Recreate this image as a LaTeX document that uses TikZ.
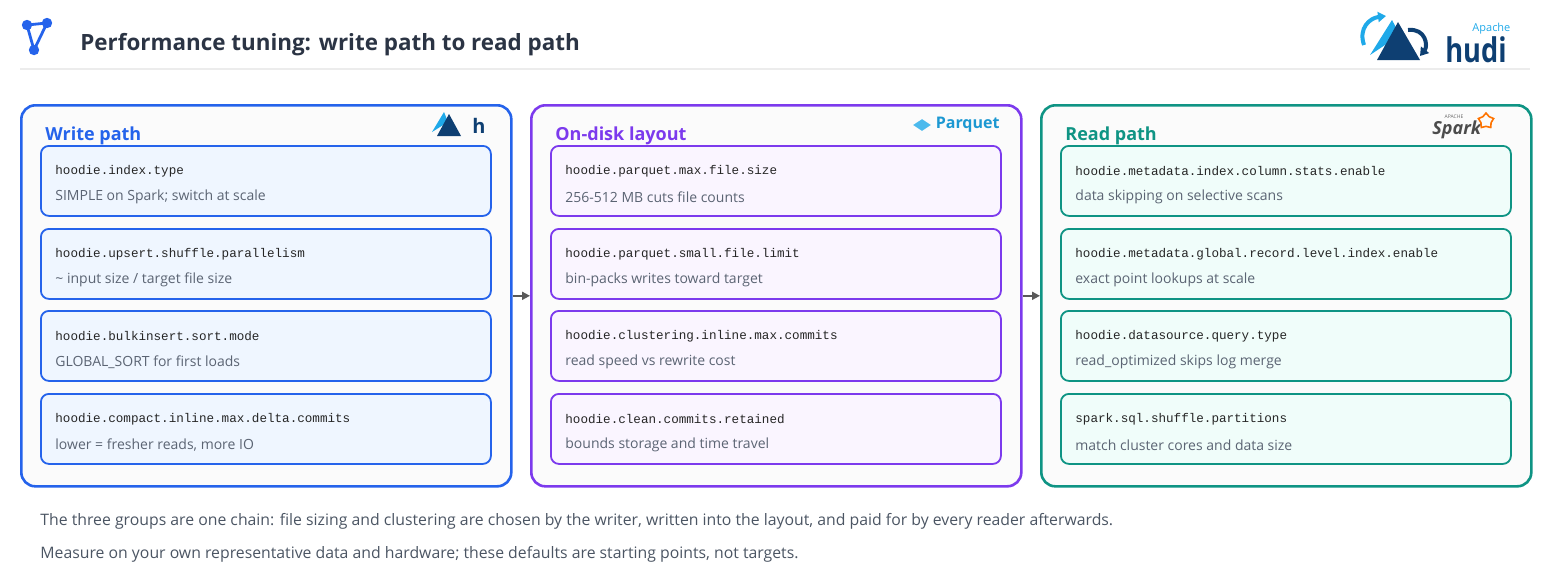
\documentclass[tikz,border=0pt]{standalone}
\usepackage{fontspec}
\setmainfont{Open Sans}
\setmonofont{Liberation Mono}
\usetikzlibrary{positioning,arrows.meta,shapes.geometric}
\definecolor{wblue}{HTML}{2563EB}
\definecolor{dpurple}{HTML}{7C3AED}
\definecolor{rteal}{HTML}{0F9484}
\definecolor{wtint}{HTML}{EFF6FF}
\definecolor{ltint}{HTML}{FAF5FF}
\definecolor{rtint}{HTML}{F0FDFA}
\definecolor{titlec}{HTML}{2B3444}
\definecolor{notec}{HTML}{4B5563}
\definecolor{subc}{HTML}{5B6473}
\definecolor{hudidark}{HTML}{0E3F72}
\definecolor{hudilight}{HTML}{1FA9E9}
\tikzset{
  panel/.style={draw=#1,line width=1.3pt,rounded corners=7pt,fill=gray!3,minimum width=245pt,minimum height=190.5pt,inner sep=0pt},
  card/.style={draw=#1,line width=0.9pt,rounded corners=4pt,minimum width=225pt,minimum height=35pt,inner sep=0pt},
  key/.style={font=\ttfamily\fontsize{6.3}{7}\selectfont,text=black!85,anchor=west,inner sep=0pt},
  note/.style={font=\fontsize{7}{8}\selectfont,text=subc,anchor=west,inner sep=0pt},
  ptitle/.style={font=\bfseries\fontsize{9}{10}\selectfont,text=#1,anchor=west,inner sep=0pt},
  link/.style={draw=gray!70!black,line width=0.9pt,-{Triangle[length=4pt,width=4pt]}}
}
\begin{document}
\begin{tikzpicture}[x=0.5pt,y=-0.5pt]
\useasboundingbox (0,0) rectangle (1550,585);
% header
\coordinate (i1) at (27,25); \coordinate (i2) at (47,23); \coordinate (i3) at (34,50);
\draw[wblue,line width=1.4pt] (i1) -- (i2) -- (i3) -- cycle;
\foreach \c in {i1,i2,i3} \fill[wblue] (\c) circle (2.6pt);
\node[font=\bfseries\fontsize{11.2}{12}\selectfont,text=titlec,anchor=west,inner sep=0pt] (title) at (80,45) {Performance tuning: write path to read path};
\draw[gray!15,line width=1pt] (20,69) -- (1530,69);
% hudi logo
\fill[hudilight] (1370,55) -- (1392,20) -- (1400,35) -- cycle;
\fill[hudidark] (1377,60) -- (1398,22) -- (1420,60) -- cycle;
\draw[hudilight,line width=2pt,-{Triangle[length=4pt,width=5pt]}] (1364,45) .. controls (1358,28) and (1370,18) .. (1386,16);
\draw[hudidark,line width=2pt,-{Triangle[length=4pt,width=5pt]}] (1408,30) .. controls (1426,28) and (1428,46) .. (1420,56);
\node[font=\fontsize{5.5}{6}\selectfont,text=hudilight,anchor=south west,inner sep=0pt] (apache) at (1472,35) {Apache};
\node[font=\bfseries\fontsize{17}{17}\selectfont,text=hudidark,anchor=south west,inner sep=0pt,xscale=0.8] (hudi) at (1445,63) {hudi};
% panels
\node[panel=wblue,anchor=north west] (write) at (20,104) {};
\node[panel=dpurple,anchor=north west] (layout) at (530,104) {};
\node[panel=rteal,anchor=north west] (read) at (1040,104) {};
\node[ptitle=wblue] (twrite) at (45,136) {Write path};
\node[ptitle=dpurple] (tlayout) at (555,136) {On-disk layout};
\node[ptitle=rteal] (tread) at (1065,136) {Read path};
% small logos
\fill[hudilight] (432,132) -- (444,112) -- (448,122) -- cycle;
\fill[hudidark] (437,136) -- (449,114) -- (461,136) -- cycle;
\node[font=\bfseries\fontsize{10}{10}\selectfont,text=hudidark,anchor=west,inner sep=0pt] (hsmall) at (472,126) {h};
\node[diamond,fill=hudilight!80,minimum width=9pt,minimum height=6pt,inner sep=0pt] (pq) at (922,125) {};
\node[font=\bfseries\fontsize{8}{8}\selectfont,text=hudilight!90!black,anchor=west,inner sep=0pt,right=2pt of pq] (parquet) {Parquet};
\node[font=\itshape\bfseries\fontsize{9}{9}\selectfont,text=black!70,anchor=west,inner sep=0pt] (spark) at (1432,130) {Spark};
\node[star,star points=5,draw=orange!90!red,line width=0.8pt,minimum size=8pt,inner sep=0pt] (sstar) at (1486,121) {};
\node[font=\fontsize{2.5}{3}\selectfont,text=black!60,anchor=south,inner sep=0pt] (sapache) at (1454,119) {APACHE};
% cards
\foreach \p/\c/\x/\tint in {w/wblue/40/wtint, l/dpurple/550/ltint, r/rteal/1060/rtint}{
  \foreach \i/\y in {1/145,2/228,3/310,4/393}{
    \node[card=\c,fill=\tint,anchor=north west] (\p\i) at (\x,\y) {};
  }
}
\foreach \p/\i/\k/\n in {
  w/1/hoodie.index.type/{SIMPLE on Spark; switch at scale},
  w/2/hoodie.upsert.shuffle.parallelism/{\textasciitilde\ input size / target file size},
  w/3/hoodie.bulkinsert.sort.mode/{GLOBAL\_SORT for first loads},
  w/4/hoodie.compact.inline.max.delta.commits/{lower = fresher reads, more IO},
  l/1/hoodie.parquet.max.file.size/{256-512 MB cuts file counts},
  l/2/hoodie.parquet.small.file.limit/{bin-packs writes toward target},
  l/3/hoodie.clustering.inline.max.commits/{read speed vs rewrite cost},
  l/4/hoodie.clean.commits.retained/{bounds storage and time travel},
  r/1/hoodie.metadata.index.column.stats.enable/{data skipping on selective scans},
  r/2/hoodie.metadata.global.record.level.index.enable/{exact point lookups at scale},
  r/3/hoodie.datasource.query.type/{read\_optimized skips log merge},
  r/4/spark.sql.shuffle.partitions/{match cluster cores and data size}}{
  \node[key] (\p\i k) at ([xshift=7.5pt,yshift=-13pt]\p\i.north west) {\k};
  \node[note] (\p\i n) at ([xshift=7.5pt,yshift=-26pt]\p\i.north west) {\n};
}
% chain
\draw[link] (write.east) -- (layout.west);
\draw[link] (layout.east) -- (read.west);
% notes
\node[note,text=notec,font=\fontsize{7.9}{9}\selectfont] (note1) at (40,521) {The three groups are one chain: file sizing and clustering are chosen by the writer, written into the layout, and paid for by every reader afterwards.};
\node[note,text=notec,font=\fontsize{7.9}{9}\selectfont] (note2) at (40,554) {Measure on your own representative data and hardware; these defaults are starting points, not targets.};
\end{tikzpicture}
\end{document}
